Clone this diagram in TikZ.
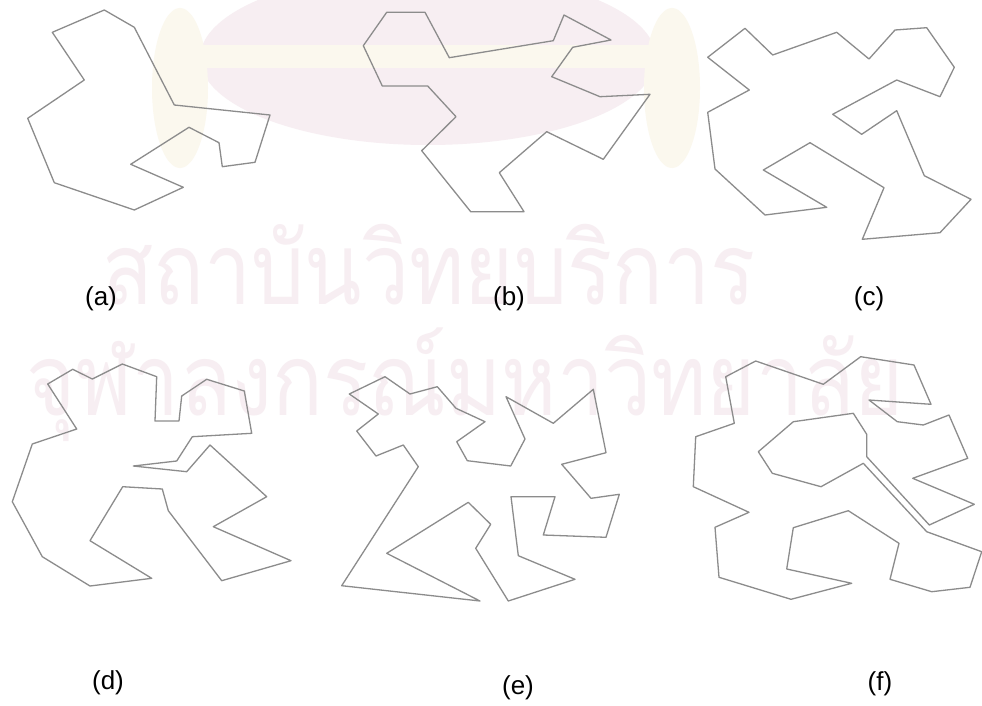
\documentclass[tikz,border=0pt]{standalone}
\usepackage{fontspec}
\setmainfont{Liberation Sans}
\newfontfamily\thaifont[Script=Thai]{Loma}
\definecolor{polygray}{HTML}{8C8C8C}
\definecolor{wmpink}{HTML}{F7EEF2}
\definecolor{wmcream}{HTML}{FBF8EE}
\begin{document}
\begin{tikzpicture}[x=1pt,y=-1pt,
  poly/.style={draw=polygray, line width=1.3pt, line join=round},
  lbl/.style={font=\fontsize{26}{26}\selectfont, inner sep=0pt, text=black},
  wm/.style={text=wmpink, inner sep=0pt, font=\thaifont\fontsize{100}{100}\selectfont, xscale=0.84}]
\useasboundingbox (0,0) rectangle (982,706);
\fill[white] (0,0) rectangle (982,706);
% watermark emblem
\fill[wmpink] (428,58) ellipse [x radius=228, y radius=87];
\fill[wmcream] (185,45) rectangle (675,68);
\fill[wmcream] (180,88) ellipse [x radius=28, y radius=80];
\fill[wmcream] (672,88) ellipse [x radius=28, y radius=80];
% watermark text
\node[wm] (wm1) at (429,265) {สถาบันวิทยบริการ};
\node[wm] (wm2) at (465,385) {จุฬาลงกรณ์มหาวิทยาลัย};
% (a)
\draw[poly] (104.3,10) -- (134.3,27.3) -- (174.3,105) -- (270,115) -- (255,162.3) -- (222.3,166.7) -- (219,142.7) -- (189,127.3) -- (130.7,164.3) -- (183.3,187.3) -- (134.3,210) -- (54.3,182.7) -- (27.7,118.3) -- (84.3,80) -- (52.3,32.3) -- cycle;
% (b)
\draw[poly] (386.7,12.3) -- (425,12.3) -- (449.3,57.7) -- (553.3,40.7) -- (564,15) -- (611,40) -- (572.7,47.3) -- (551.7,76.7) -- (600,96.7) -- (650,94.3) -- (603.3,159.3) -- (546.7,131.7) -- (499.3,172.7) -- (524,211.7) -- (470.7,211.7) -- (421.7,150.7) -- (456,116.7) -- (427.7,86) -- (382.3,86) -- (363.3,45.7) -- cycle;
% (c)
\draw[poly] (745,28.3) -- (772.7,55) -- (836.7,32.3) -- (869,59) -- (895,30) -- (926.7,27.7) -- (954.3,67.3) -- (940,96.7) -- (896.7,80) -- (832.7,114.3) -- (861.7,134.3) -- (896.7,110.7) -- (924.3,175.7) -- (971,199.3) -- (940,232.7) -- (862.3,239.3) -- (884,187.7) -- (810,142.7) -- (763.3,170) -- (826.7,207.3) -- (765,215) -- (715,169) -- (707.7,112.3) -- (749.3,90) -- (707.7,57.3) -- cycle;
% (d)
\draw[poly] (47.7,384) -- (72.7,369.3) -- (92.3,379) -- (122.3,364) -- (156.7,376.7) -- (155,421) -- (179,421) -- (181.7,396) -- (206.7,379.3) -- (244.3,391) -- (251.7,433.3) -- (192.3,436.7) -- (176.7,461) -- (133.3,466) -- (186.7,471.7) -- (210,445) -- (266.7,496.7) -- (213.3,526.7) -- (291,560.7) -- (221.7,580.7) -- (168.3,510.7) -- (162.3,489) -- (122.7,486.7) -- (90,540.7) -- (151.7,578.3) -- (90,586) -- (42.3,556.7) -- (12.3,501.7) -- (32.3,444) -- (76.7,429) -- cycle;
% (e)
\draw[poly] (349.3,394) -- (385,376.7) -- (410,394) -- (437.3,386.7) -- (456,408.3) -- (485,421.7) -- (456.7,441.7) -- (467.3,460.7) -- (510.7,466) -- (525,439) -- (506,396.7) -- (553.3,423.3) -- (593.3,389.3) -- (606,452.7) -- (561.7,464.3) -- (591,498.3) -- (619.3,494.3) -- (606,537.3) -- (543.3,535) -- (555,496.7) -- (511,496.7) -- (518.3,555.7) -- (575,579.3) -- (508.3,601) -- (475.7,548.3) -- (490.7,524.3) -- (468.3,502.3) -- (386.7,553.3) -- (480,601) -- (341.7,585.7) -- (418.3,466.7) -- (403.3,445) -- (376,456) -- (356.7,431) -- (378.3,414) -- cycle;
% (f)
\draw[poly] (725.7,376.7) -- (755.7,361) -- (823.3,384.3) -- (860.7,356.7) -- (914,365) -- (931,404.3) -- (869,400) -- (897.3,421.7) -- (923.3,425) -- (949,415) -- (967.7,458.3) -- (912.7,478.3) -- (974.3,504.3) -- (929.3,525) -- (866.7,456.7) -- (866.7,434.3) -- (853.3,413.3) -- (793.3,421.7) -- (758.3,451.7) -- (772.3,473.3) -- (821,486.7) -- (863.3,463.3) -- (926.7,531.7) -- (981.7,551.7) -- (970,587.3) -- (931.7,591.7) -- (890,579.3) -- (899,543.3) -- (848.3,510.7) -- (793.3,527.7) -- (786.7,569) -- (851.7,583.3) -- (791,599.3) -- (719,577.3) -- (715,527.3) -- (749,512.3) -- (693.3,486.7) -- (695.7,436.7) -- (734.3,423.3) -- cycle;
% labels
\node[lbl] (la) at (101,299) {(a)};
\node[lbl] (lb) at (509,299) {(b)};
\node[lbl] (lc) at (869,299) {(c)};
\node[lbl] (ld) at (108,683) {(d)};
\node[lbl] (le) at (518,688) {(e)};
\node[lbl] (lf) at (880,684) {(f)};
\end{tikzpicture}
\end{document}
